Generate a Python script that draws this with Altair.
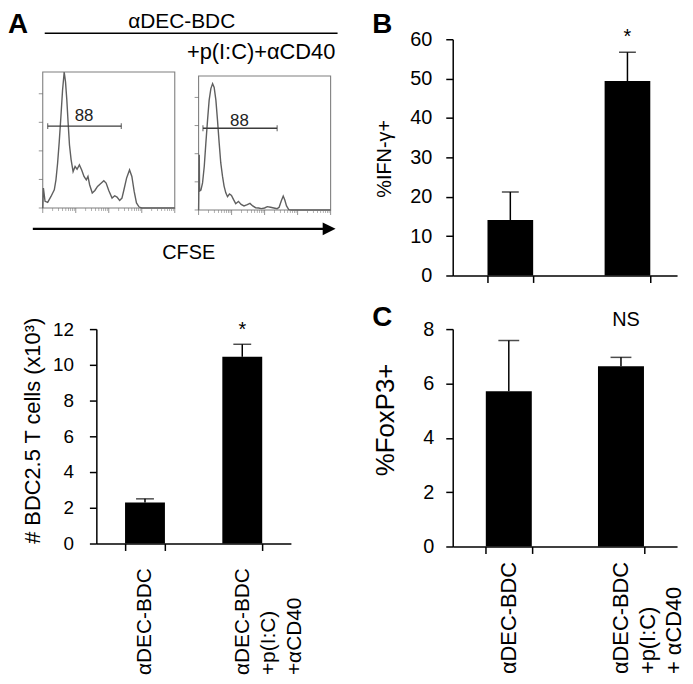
import math
import altair as alt
import pandas as pd

FONT = "Liberation Sans"

# ---------------- data ----------------
# Panel A, CFSE histograms: x = position along the CFSE axis (% of axis), y = % of modal count
H1_X = [0, 0.5, 1.75, 3.75, 6.25, 8.75, 10, 11.25, 12.5, 13.75, 15, 16.25, 17.25, 18.25, 19.25,
        20.25, 21.5, 23, 24.5, 26, 27.75, 29.5, 31.25, 33, 34.25, 35.5, 37.5, 39.5, 41.5, 43.75,
        46.25, 48, 50, 52.5, 54.5, 56.25, 58.25, 60, 61.5, 63.5, 65.75, 67.5, 69.25, 71, 73, 75, 100]
H1_Y = [0, 14.6, 4.9, 4.1, 8.5, 13.4, 20.7, 32.9, 48.8, 67.1, 86.6, 100, 92.7, 79.3, 62.2,
        46.3, 35.4, 26.8, 30.5, 28.5, 31.7, 28, 23.2, 20.7, 23.2, 17.1, 11, 12.9, 15.9, 17.8,
        20, 18.3, 12.9, 7.3, 9, 8, 5.6, 7.3, 13.4, 22, 28, 23.2, 12.2, 3.7, 0.7, 0, 0]
H2_X = [0, 0.5, 0.75, 1.75, 3, 4.3, 5.5, 6.8, 8, 9.3, 10.6, 11.8, 13.1, 14.3, 15.6, 16.8, 18.1,
        19.3, 20.6, 21.9, 23.4, 24.9, 26.4, 28.1, 30.2, 32.2, 34.4, 36.9, 38.9, 41, 43.2, 45.5,
        47.5, 50, 52, 54.5, 57, 59.5, 61, 62.6, 64.1, 65.3, 66.6, 68.3, 70.4, 100]
H2_Y = [0, 41.2, 14.1, 14.8, 20.2, 32.6, 49.9, 67.2, 82, 90.6, 94.3, 91.4, 82, 67.2, 49.9, 35.1,
        25.2, 17.8, 12.8, 9.9, 11.9, 10.9, 7.9, 4.7, 6.4, 4.2, 3, 4, 4.9, 3, 1.7, 1.5, 1, 1.5,
        2.5, 2, 1.5, 1, 2, 6.7, 10.4, 7.4, 3, 0.2, 0, 0]
GATE_LO = [3.75, 3.3]
GATE_HI = [59.5, 59.5]
GATE_Y = [60.2, 61.0]
GATE_TEXT = ["88", "88"]
GATE_TEXT_X = [31.25, 30.9]
GATE_TEXT_Y = [67.6, 66.7]
HIST_YTICKS = [0, 21, 42, 63, 84]
HIST_DECADES = [0, 25, 50, 75, 100]
HIST_MINOR = [25 * d + 25 * math.log10(k) for d in range(4) for k in range(2, 10)]

# Panel A (bottom): number of BDC2.5 T cells
A_GROUPS = ["αDEC-BDC", "αDEC-BDC\n+p(I:C)\n+αCD40"]
A_MEAN = [2.3, 10.45]
A_ERR = [0.2, 0.7]
A_SIG = ["", "*"]
A_YTICKS = [0, 2, 4, 6, 8, 10, 12]

# Panel B: %IFN-γ+
B_MEAN = [14.1, 49.4]
B_ERR = [7.1, 7.3]
B_SIG = ["", "*"]
B_YTICKS = [0, 10, 20, 30, 40, 50, 60]

# Panel C: %FoxP3+
C_GROUPS = ["αDEC-BDC", "αDEC-BDC\n+p(I:C)\n+ αCD40"]
C_MEAN = [5.71, 6.63]
C_ERR = [1.87, 0.33]
C_SIG = ["", "NS"]
C_YTICKS = [0, 2, 4, 6, 8]


# ---------------- helpers ----------------
def one(text=""):
    return pd.DataFrame({"t": [text]})


def deco_text(text, x, y, size, bold=False, align="center", baseline="middle"):
    return alt.Chart(one(text)).mark_text(
        font=FONT, fontSize=size, fontWeight="bold" if bold else "normal",
        align=align, baseline=baseline, color="black"
    ).encode(x=alt.value(x), y=alt.value(y), text="t:N")


def hist_panel(xs, ys, k, x_range, y_range):
    sx = alt.Scale(domain=[0, 100], range=x_range, nice=False, zero=False)
    sy = alt.Scale(domain=[0, 100], range=y_range, nice=False, zero=False)

    def enc(ch, xf, yf, **extra):
        return ch.encode(x=alt.X(f"{xf}:Q", scale=sx, axis=None),
                         y=alt.Y(f"{yf}:Q", scale=sy, axis=None), **extra)

    frame = enc(alt.Chart(pd.DataFrame({"x0": [0], "x1": [100], "y0": [0], "y1": [100]}))
                .mark_rect(fill="transparent", stroke="#7f7f7f", strokeWidth=1.1),
                "x0", "y0", x2="x1", y2="y1")
    curve = enc(alt.Chart(pd.DataFrame({"x": xs, "y": ys}))
                .mark_line(color="#5f5f5f", strokeWidth=1.4), "x", "y")
    ytick = enc(alt.Chart(pd.DataFrame({"x": [0] * len(HIST_YTICKS), "y": HIST_YTICKS}))
                .mark_tick(orient="horizontal", size=4, thickness=1, color="#666", xOffset=-2),
                "x", "y")
    xmaj = enc(alt.Chart(pd.DataFrame({"x": HIST_DECADES, "y": [0] * len(HIST_DECADES)}))
               .mark_tick(orient="vertical", size=5, thickness=1, color="#666", yOffset=2.5),
               "x", "y")
    xmin = enc(alt.Chart(pd.DataFrame({"x": HIST_MINOR, "y": [0] * len(HIST_MINOR)}))
               .mark_tick(orient="vertical", size=3, thickness=0.8, color="#777", yOffset=1.5),
               "x", "y")
    gate = enc(alt.Chart(pd.DataFrame({"lo": [GATE_LO[k]], "hi": [GATE_HI[k]], "y": [GATE_Y[k]]}))
               .mark_rule(color="#3c3c3c", strokeWidth=1.5), "lo", "y", x2="hi")
    caps = enc(alt.Chart(pd.DataFrame({"x": [GATE_LO[k], GATE_HI[k]], "y": [GATE_Y[k]] * 2}))
               .mark_tick(orient="vertical", size=6, thickness=1.2, color="#3c3c3c"), "x", "y")
    lab = enc(alt.Chart(pd.DataFrame({"x": [GATE_TEXT_X[k]], "y": [GATE_TEXT_Y[k]], "t": [GATE_TEXT[k]]}))
              .mark_text(font=FONT, fontSize=17, color="#222", baseline="middle"),
              "x", "y", text="t:N")
    return alt.layer(frame, curve, ytick, xmaj, xmin, gate, caps, lab)


def bar_panel(groups, means, errs, sig, ymax, yticks, title, title_size, tick_font, tick_pad,
              title_x, title_y, width, height, show_labels, label_size, label_pad, capw,
              sig_size, sig_dx, sig_dy, letter, letter_y, band):
    df = pd.DataFrame({"g": groups, "m": means,
                       "u": [a + b for a, b in zip(means, errs)], "s": sig})
    xaxis = alt.Axis(title=None, tickBand="extent", tickSize=7, tickWidth=1.5, tickColor="black",
                     domainColor="black", domainWidth=1.5, labels=show_labels, labelAngle=270,
                     labelAlign="left", labelBaseline="middle", labelPadding=label_pad,
                     labelFont=FONT, labelFontSize=label_size, labelLineHeight=26.5,
                     labelColor="black", labelExpr="split(datum.label, '\\n')",
                     labelOverlap=False, labelLimit=400)
    yaxis = alt.Axis(values=yticks, title=title, titleFont=FONT, titleFontSize=title_size,
                     titleFontWeight="normal", titleColor="black", titleAngle=270,
                     titleX=title_x, titleY=title_y, titleAlign="center", titleBaseline="middle",
                     labelFont=FONT, labelFontSize=tick_font, labelColor="black",
                     labelPadding=tick_pad, tickSize=7, tickWidth=1.5, tickColor="black",
                     domainColor="black", domainWidth=1.5, grid=False, labelFlush=False)
    X = alt.X("g:N", sort=groups,
              scale=alt.Scale(paddingInner=band[0], paddingOuter=band[1], align=band[2]),
              axis=xaxis)
    ysc = alt.Scale(domain=[0, ymax], nice=False, zero=True)
    base = alt.Chart(df).encode(x=X)
    bars = base.mark_bar(color="black").encode(y=alt.Y("m:Q", scale=ysc, axis=yaxis))
    err = base.mark_rule(color="black", strokeWidth=1.5).encode(
        y=alt.Y("m:Q", scale=ysc, axis=yaxis), y2="u:Q")
    cap = base.mark_tick(color="black", thickness=1.5, size=capw, orient="horizontal").encode(
        y=alt.Y("u:Q", scale=ysc, axis=yaxis))
    star = base.mark_text(font=FONT, fontSize=sig_size, color="black", baseline="middle",
                          dx=sig_dx, dy=sig_dy).encode(
        y=alt.Y("u:Q", scale=ysc, axis=yaxis), text="s:N")
    layers = [bars, err, cap, star]
    if letter:
        layers.append(deco_text(letter, -81, letter_y, 28, bold=True, align="left", baseline="top"))
    return alt.layer(*layers).properties(width=width, height=height)


# ---------------- panel A top: histograms ----------------
hist1 = hist_panel(H1_X, H1_Y, 0, [-54, 79], [170, 33])
hist2 = hist_panel(H2_X, H2_Y, 1, [103, 236], [172, 37])
header_rule = alt.Chart(one()).mark_rule(color="black", strokeWidth=1.5).encode(
    x=alt.value(-52), x2=alt.value(243), y=alt.value(-6))
arrow_rule = alt.Chart(one()).mark_rule(color="black", strokeWidth=2.2).encode(
    x=alt.value(-64), x2=alt.value(229), y=alt.value(191))
arrow_head = alt.Chart(one()).mark_point(shape="M -1 -1 L 1 0 L -1 1 Z", size=169, filled=True,
                                         color="black", opacity=1).encode(
    x=alt.value(234.5), y=alt.value(191))
hist_cell = alt.layer(
    hist1, hist2, header_rule, arrow_rule, arrow_head,
    deco_text("A", -89, -28, 28, bold=True, align="left", baseline="top"),
    deco_text("αDEC-BDC", 86, -17.5, 21),
    deco_text("+p(I:C)+αCD40", 166, 13, 22),
    deco_text("CFSE", 93, 215, 20),
).resolve_scale(x="independent", y="independent").properties(width=196, height=238)

# ---------------- bar panels ----------------
a_cell = bar_panel(A_GROUPS, A_MEAN, A_ERR, A_SIG, 12, A_YTICKS, "# BDC2.5 T cells (x10³)", 22,
                   19, 16, -64, 102, 196, 216, True, 21, 125, 18, 20, 0, -14, None, 0,
                   (0.59, 0.295, 0.5))
b_cell = bar_panel(A_GROUPS, B_MEAN, B_ERR, B_SIG, 60, B_YTICKS, "%IFN-γ+", 20,
                   20, 14, -69, 120, 226, 238, False, 21, 125, 17, 20, 0, -15, "B", -28,
                   (0.61, 0.2627, 0.565))
c_cell = bar_panel(C_GROUPS, C_MEAN, C_ERR, C_SIG, 8, C_YTICKS, "%FoxP3+", 26,
                   20, 12, -68, 91, 226, 219, True, 22, 121, 21, 20, 5, -38, "C", -25,
                   (0.59, 0.295, 0.5))

chart = alt.concat(hist_cell, b_cell, a_cell, c_cell, columns=2,
                   spacing={"row": 54, "column": 163}).properties(
    bounds="flush", padding=0).configure_view(stroke=None)

chart.save("out.html", embed_options={"renderer": "svg", "actions": False})
